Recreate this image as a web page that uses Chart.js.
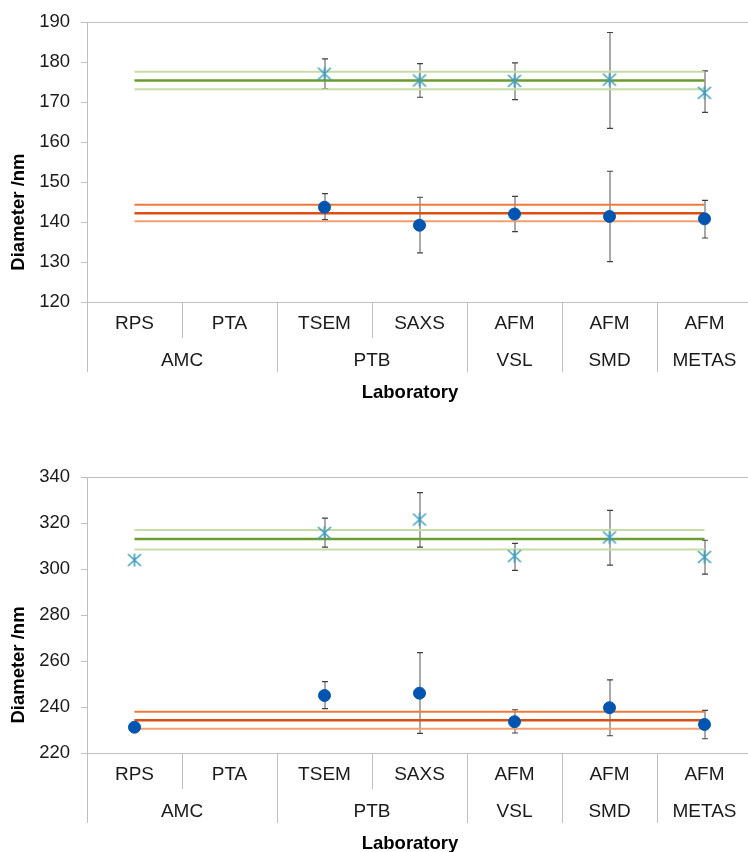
<!DOCTYPE html>
<html>
<head>
<meta charset="utf-8">
<script src="https://cdn.jsdelivr.net/npm/chart.js@4/dist/chart.umd.min.js"></script>
<style>
  html, body { margin: 0; padding: 0; overflow: hidden; background: #fff; }
  .box { position: absolute; left: 0; width: 760px; }
  #top-box { top: 0; height: 415px; }
  #bottom-box { top: 420px; height: 432px; }
</style>
</head>
<body>
<div class="box" id="top-box"><canvas id="chart-top" width="760" height="415"></canvas></div>
<div class="box" id="bottom-box"><canvas id="chart-bottom" width="760" height="432"></canvas></div>
<script>
// categories
const methods = ["RPS", "PTA", "TSEM", "SAXS", "AFM", "AFM", "AFM"];
const labs = ["AMC", "AMC", "PTB", "PTB", "VSL", "SMD", "METAS"];

// top chart (smaller particles)
const topTicks = [120, 130, 140, 150, 160, 170, 180, 190];
const topCross = [null, null, 177.1, 175.4, 175.3, 175.6, 172.3];
const topCrossHi = [null, null, 180.8, 179.6, 179.8, 187.4, 177.8];
const topCrossLo = [null, null, 173.4, 171.2, 170.6, 163.4, 167.4];
const topDot = [null, null, 143.7, 139.2, 142.0, 141.4, 140.8];
const topDotHi = [null, null, 147.1, 146.2, 146.4, 152.7, 145.4];
const topDotLo = [null, null, 140.6, 132.3, 137.6, 130.1, 136.0];
const topGreen = [173.2, 175.4, 177.6]; // low, mean, high
const topOrange = [140.2, 142.2, 144.3];

// bottom chart (larger particles)
const bottomTicks = [220, 240, 260, 280, 300, 320, 340];
const bottomCross = [303.9, null, 315.7, 321.5, 305.6, 313.7, 305.2];
const bottomCrossHi = [null, null, 322.1, 333.2, 311.1, 325.5, 312.5];
const bottomCrossLo = [null, null, 309.5, 309.5, 299.4, 301.7, 297.8];
const bottomDot = [231.2, null, 245.0, 246.0, 233.6, 239.7, 232.4];
const bottomDotHi = [null, null, 251.0, 263.6, 238.8, 251.8, 238.5];
const bottomDotLo = [null, null, 239.3, 228.5, 228.7, 227.5, 226.2];
const bottomGreen = [308.5, 313.0, 317.0];
const bottomOrange = [230.5, 234.2, 237.9];

const FONT = "'Liberation Sans', Arial, sans-serif";
const axisGray = "#bfbfbf";

// X marker with a vertical stroke
function makeStar() {
  const c = document.createElement("canvas");
  c.width = 16; c.height = 16;
  const g = c.getContext("2d");
  g.strokeStyle = "#3f9dbf";
  g.lineWidth = 1.6;
  g.beginPath();
  g.moveTo(1.5, 2); g.lineTo(14.5, 14);
  g.moveTo(14.5, 2); g.lineTo(1.5, 14);
  g.moveTo(8, 1.5); g.lineTo(8, 14.5);
  g.stroke();
  return c;
}
const starImg = makeStar();

// error bars, drawn under the markers
const errorBars = {
  id: "errorBars",
  beforeDatasetsDraw(chart) {
    const bars = chart.options.plugins.errorBars.sets;
    const x = chart.scales.x, y = chart.scales.y;
    const ctx = chart.ctx;
    ctx.save();
    bars.forEach(([hi, lo]) => {
      hi.forEach((h, i) => {
        if (h == null) return;
        const px = Math.round(x.getPixelForValue(i));
        const y1 = y.getPixelForValue(h), y2 = y.getPixelForValue(lo[i]);
        ctx.strokeStyle = "#8c8c8c";
        ctx.lineWidth = 1.5;
        ctx.beginPath();
        ctx.moveTo(px, y1); ctx.lineTo(px, y2);
        ctx.stroke();
        ctx.strokeStyle = "#404040";
        ctx.lineWidth = 1.2;
        ctx.beginPath();
        ctx.moveTo(px - 3, y1); ctx.lineTo(px + 3, y1);
        ctx.moveTo(px - 3, y2); ctx.lineTo(px + 3, y2);
        ctx.stroke();
      });
    });
    ctx.restore();
  }
};

// two-level category axis like the spreadsheet one, plus the y title
const groupAxis = {
  id: "groupAxis",
  afterDraw(chart) {
    const x = chart.scales.x;
    const ctx = chart.ctx;
    const area = chart.chartArea;
    const base = area.bottom;
    const step = (x.right - x.left) / methods.length;
    ctx.save();
    ctx.strokeStyle = axisGray;
    ctx.lineWidth = 1;
    ctx.fillStyle = "#1a1a1a";
    ctx.textAlign = "center";
    ctx.textBaseline = "middle";
    ctx.font = "19px " + FONT;
    for (let i = 0; i <= methods.length; i++) {
      const px = Math.round(x.left + i * step) + 0.5;
      const groupEdge = i === 0 || i === methods.length || labs[i] !== labs[i - 1];
      ctx.beginPath();
      ctx.moveTo(px, base);
      ctx.lineTo(px, base + (groupEdge ? 70 : 36));
      ctx.stroke();
    }
    methods.forEach((m, i) => ctx.fillText(m, x.getPixelForValue(i), base + 22));
    let start = 0;
    for (let i = 1; i <= labs.length; i++) {
      if (i === labs.length || labs[i] !== labs[start]) {
        const cx = x.left + ((start + i) / 2) * step;
        ctx.fillText(labs[start], cx, base + 59);
        start = i;
      }
    }
    ctx.fillStyle = "#000";
    ctx.font = "bold 18.5px " + FONT;
    ctx.fillText("Laboratory", 410, base + 91);
    ctx.translate(19, (area.top + area.bottom) / 2 + 50);
    ctx.rotate(-Math.PI / 2);
    ctx.fillText("Diameter /nm", 0, 0);
    ctx.restore();
  }
};

function refLine(v, color, width) {
  return {
    type: "line",
    data: [{ x: 0, y: v }, { x: methods.length - 1, y: v }],
    borderColor: color,
    borderWidth: width,
    pointRadius: 0,
    parsing: false
  };
}

function buildChart(id, ticks, green, orange, cross, dot, bars, topPad, xHeight) {
  new Chart(document.getElementById(id), {
    type: "line",
    data: {
      labels: methods,
      datasets: [
        {
          data: cross,
          showLine: false,
          pointStyle: starImg,
          pointRadius: 7
        },
        {
          data: dot,
          showLine: false,
          pointStyle: "circle",
          pointRadius: 6,
          pointBackgroundColor: "#0055b0",
          pointBorderColor: "#0055b0",
          pointBorderWidth: 1
        },
        refLine(green[1], "#6a9c2f", 2.5),
        refLine(green[0], "#c6dca6", 2),
        refLine(green[2], "#c6dca6", 2),
        refLine(orange[1], "#dc4f10", 2.5),
        refLine(orange[0], "#f2a070", 2),
        refLine(orange[2], "#ee7a3a", 2)
      ]
    },
    options: {
      responsive: false,
      animation: false,
      layout: { padding: { top: topPad, right: 3, left: 0, bottom: 0 } },
      plugins: {
        legend: { display: false },
        tooltip: { enabled: false },
        errorBars: { sets: bars }
      },
      scales: {
        x: {
          type: "category",
          offset: true,
          grid: { display: false },
          border: { color: axisGray },
          ticks: { display: false },
          afterFit: (s) => { s.height = xHeight; }
        },
        y: {
          min: ticks[0],
          max: ticks[ticks.length - 1],
          afterBuildTicks: (s) => { s.ticks = ticks.map((v) => ({ value: v })); },
          afterFit: (s) => { s.width = 87; },
          border: { color: axisGray },
          grid: {
            color: (c) => (c.tick && c.tick.value === ticks[ticks.length - 1] ? axisGray : "rgba(0,0,0,0)"),
            tickColor: axisGray,
            tickLength: 6
          },
          ticks: {
            color: "#1a1a1a",
            padding: 11,
            font: { family: FONT, size: 18.5 }
          }
        }
      }
    },
    plugins: [errorBars, groupAxis]
  });
}

buildChart("chart-top", topTicks, topGreen, topOrange, topCross, topDot,
  [[topCrossHi, topCrossLo], [topDotHi, topDotLo]], 22, 113);
buildChart("chart-bottom", bottomTicks, bottomGreen, bottomOrange, bottomCross, bottomDot,
  [[bottomCrossHi, bottomCrossLo], [bottomDotHi, bottomDotLo]], 57, 99);
</script>
</body>
</html>
